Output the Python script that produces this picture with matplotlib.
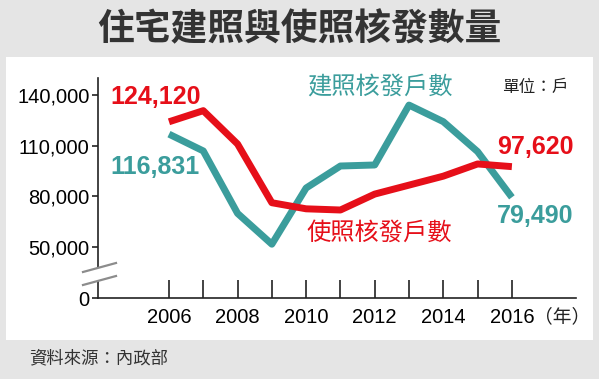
import matplotlib
matplotlib.use("Agg")
import matplotlib.pyplot as plt
from matplotlib.patches import Rectangle, Polygon
from matplotlib.lines import Line2D

# data (households)
years = [2006, 2007, 2008, 2009, 2010, 2011, 2012, 2013, 2014, 2015, 2016]
use_permits = [124120, 130700, 111000, 76300, 72700, 72000, 81400, 86700, 92000, 99200, 97620]
build_permits = [116831, 106900, 70000, 51800, 85000, 98000, 98600, 134000, 124200, 106500, 79490]

ytick_vals = [20000, 50000, 80000, 110000, 140000]   # 20000 slot shows the broken "0"
ytick_labels = ["0", "50,000", "80,000", "110,000", "140,000"]
xtick_labels = [str(y) if y % 2 == 0 else "" for y in years]

RED = "#e60f19"
TEAL = "#3b9d9c"
CJK = ["Noto Sans CJK TC", "DejaVu Sans"]
LAT = ["Liberation Sans", "DejaVu Sans"]

fig = plt.figure(figsize=(5.99, 3.79), dpi=100)
fig.patch.set_facecolor("#e5e5e5")
W, H = 599, 379

# white panel
fig.patches.append(Rectangle((6 / W, (H - 340) / H), 587 / W, 283 / H,
                             transform=fig.transFigure, facecolor="white",
                             edgecolor="none", zorder=-5))

fig.text(0.5, 1 - 30 / H, "住宅建照與使照核發數量", ha="center", va="center",
         fontsize=26.5, fontweight=900, color="#333333", family=CJK)
fig.text(29 / W, 1 - 358 / H, "資料來源：內政部", ha="left", va="center",
         fontsize=12.5, color="#333333", family=CJK)

ax = fig.add_axes([98 / W, (H - 298) / H, 478 / W, 220 / H])
ax.set_facecolor("none")
ax.set_xlim(2003.93, 2017.87)
ax.set_ylim(20000, 150000)

ax.plot(years, build_permits, color=TEAL, lw=5, solid_joinstyle="round",
        solid_capstyle="butt", zorder=3)
ax.plot(years, use_permits, color=RED, lw=5, solid_joinstyle="round",
        solid_capstyle="butt", zorder=4)

for s in ["top", "right"]:
    ax.spines[s].set_visible(False)
for s in ["left", "bottom"]:
    ax.spines[s].set_linewidth(1.2)
    ax.spines[s].set_color("#222222")

ax.set_yticks(ytick_vals)
ax.set_yticklabels(ytick_labels, family=LAT, fontsize=14.5)
ax.tick_params(axis="y", direction="out", length=4, width=1.2, pad=2, color="#222222")
ax.set_xticks(years)
ax.set_xticklabels(xtick_labels, family=LAT, fontsize=14.5)
ax.tick_params(axis="x", direction="in", length=13, width=1.2, pad=7, color="#222222")

# axis break on the y axis
def axc(px, py):
    return ((px - 98) / 478, (298 - py) / 220)

gap = Polygon([axc(80, 272.5), axc(118, 262.5), axc(118, 275.5), axc(80, 285.5)],
              closed=True, transform=ax.transAxes, facecolor="white",
              edgecolor="none", clip_on=False, zorder=5)
ax.add_patch(gap)
for y0, y1 in [(272, 263), (285, 276)]:
    (x_a, y_a), (x_b, y_b) = axc(83, y0), axc(116, y1)
    ax.add_line(Line2D([x_a, x_b], [y_a, y_b], transform=ax.transAxes,
                       color="#8c8c8c", lw=1.6, clip_on=False, zorder=6))

# annotations
ax.text(2004.28, 138800, f"{use_permits[0]:,}", color=RED, fontsize=18,
        fontweight="bold", family=LAT, ha="left", va="center")
ax.text(2004.28, 97440, f"{build_permits[0]:,}", color=TEAL, fontsize=18,
        fontweight="bold", family=LAT, ha="left", va="center")
ax.text(2015.56, 109260, f"{use_permits[-1]:,}", color=RED, fontsize=18,
        fontweight="bold", family=LAT, ha="left", va="center")
ax.text(2015.56, 68470, f"{build_permits[-1]:,}", color=TEAL, fontsize=18,
        fontweight="bold", family=LAT, ha="left", va="center")
ax.text(2010.02, 144730, "建照核發戶數", color=TEAL, fontsize=17.5,
        family=CJK, ha="left", va="center")
ax.text(2010.02, 58430, "使照核發戶數", color=RED, fontsize=17.5,
        family=CJK, ha="left", va="center")
ax.text(2015.71, 144140, "單位：戶", color="#222222", fontsize=12,
        family=CJK, ha="left", va="center", clip_on=False)
ax.text(2016.64, 8770, "（年）", color="#222222", fontsize=13.5,
        family=CJK, ha="left", va="center", clip_on=False)

fig.savefig("out.png", dpi=100, facecolor=fig.get_facecolor())
